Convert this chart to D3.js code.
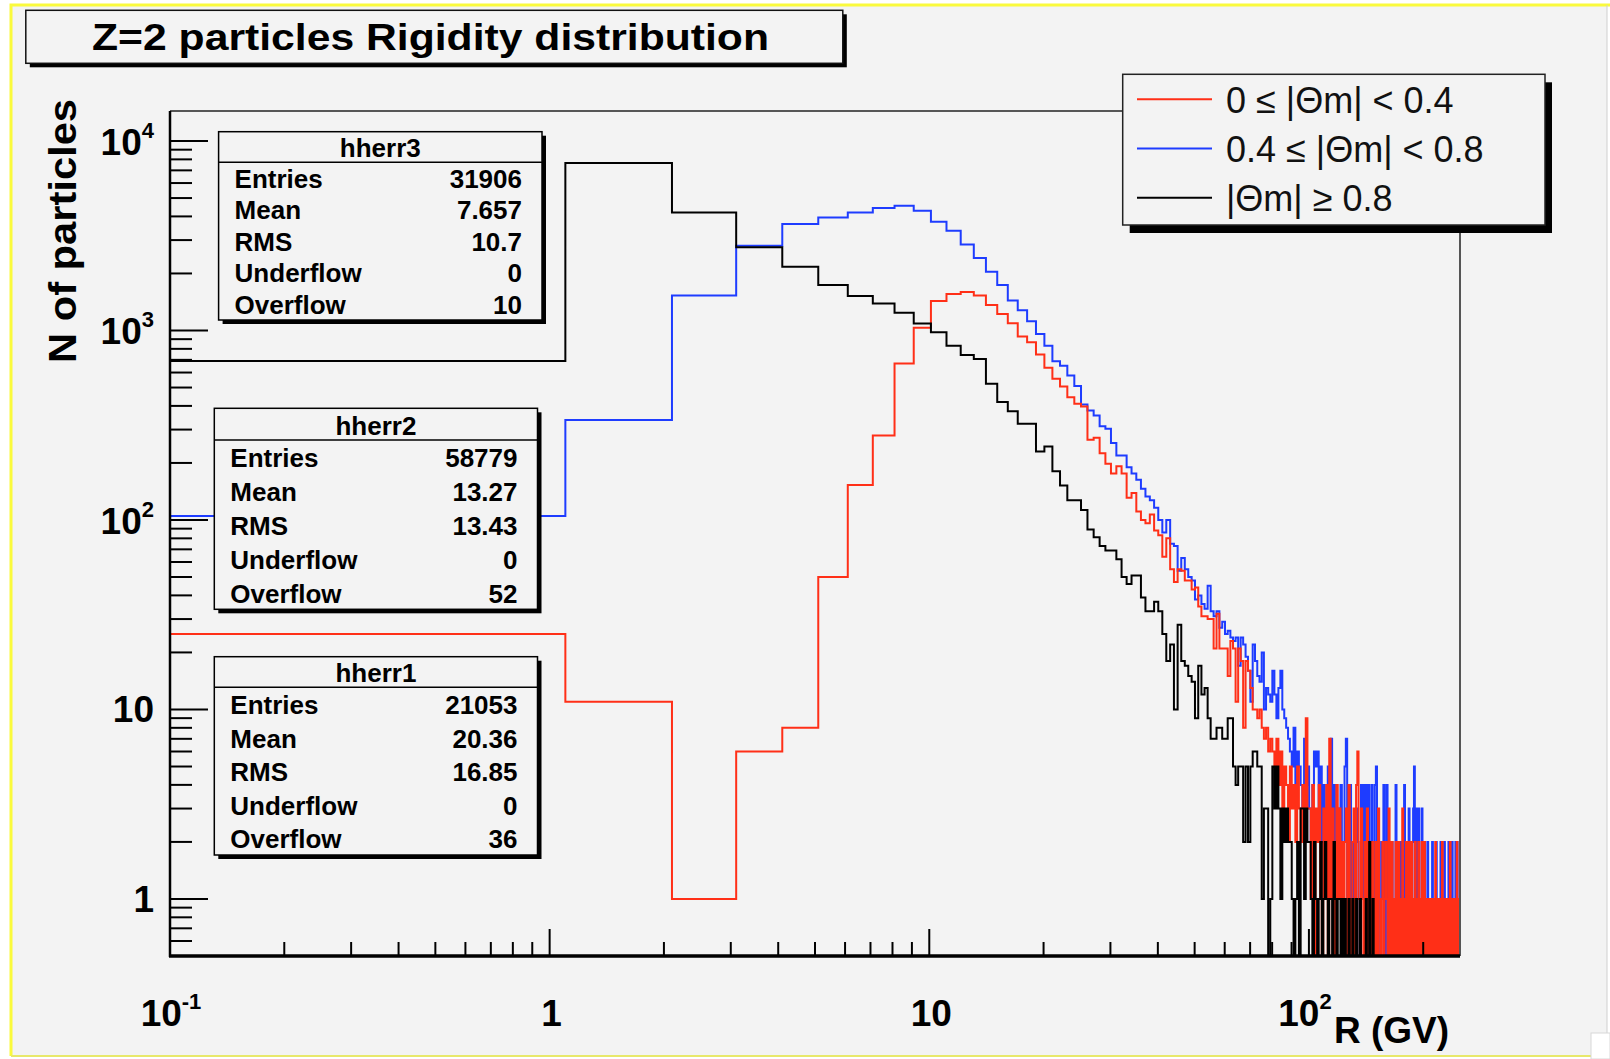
<!DOCTYPE html>
<html>
<head>
<meta charset="utf-8">
<script src="https://d3js.org/d3.v7.min.js"></script>
<style>
  body { margin: 0; background: #ffffff; }
  text { font-family: "Liberation Sans", Arial, Helvetica, sans-serif; }
</style>
</head>
<body>
<script>
const width = 1610;
const height = 1059;

// histogram bins: 1 GV wide, first bin starts at 0.1 GV
const binStart = 0.1;
const binWidth = 1;

// hherr1 : 0 <= |Theta m| < 0.4
const hherr1 = [
  25, 11, 1, 6, 8, 50, 153, 279, 670, 1033,
  1430, 1560, 1595, 1528, 1364, 1222, 1092, 930, 866, 747,
  635, 556, 506, 444, 410, 397, 265, 272, 225, 198,
  176, 192, 176, 131, 139, 111, 100, 96, 107, 88,
  83, 64, 80, 55, 47, 55, 54, 48, 48, 43,
  44, 35, 31, 31, 30, 30, 21, 32, 21, 21,
  21, 15, 23, 21, 11, 21, 18, 8, 18, 16,
  13, 10, 10, 9, 10, 8, 7, 8, 6, 7,
  6, 5, 7, 4, 6, 3, 5, 4, 2, 5,
  3, 4, 2, 5, 3, 2, 4, 2, 9, 3,
  3, 1, 4, 0, 3, 2, 4, 1, 0, 3,
  2, 4, 0, 7, 1, 3, 2, 0, 4, 1,
  3, 1, 2, 0, 2, 3, 0, 4, 1, 0,
  2, 3, 0, 4, 6, 1, 0, 3, 1, 0,
  2, 1, 3, 0, 1, 2, 0, 2, 1, 0,
  2, 0, 3, 1, 0, 1, 2, 0, 1, 2,
  1, 0, 3, 1, 0, 2, 1, 0, 1, 2,
  0, 1, 2, 0, 1, 0, 3, 1, 0, 1,
  2, 0, 1, 2, 0, 1, 2, 0, 1, 0,
  2, 1, 0, 1, 2, 0, 1, 0, 2, 1,
  0, 2, 1, 0, 1, 1, 0, 1, 0, 1,
  1, 0, 1, 0, 1, 2, 0, 1, 0, 1,
  0, 1, 0, 1, 2, 0, 1, 0, 1, 1,
  0, 1, 0, 1, 0, 2, 1, 0, 1, 0,
  1, 0, 1, 1, 0, 2, 0, 1, 0, 1
];

// hherr2 : 0.4 <= |Theta m| < 0.8
const hherr2 = [
  105, 337, 1530, 2800, 3650, 3950, 4200, 4430, 4550, 4285,
  3750, 3360, 2840, 2410, 2040, 1740, 1440, 1280, 1118, 959,
  832, 688, 651, 578, 510, 407, 378, 356, 312, 303,
  255, 219, 219, 190, 176, 163, 146, 133, 127, 116,
  100, 86, 100, 75, 73, 54, 63, 55, 50, 48,
  38, 40, 36, 34, 45, 33, 31, 33, 27, 29,
  25, 26, 24, 23, 24, 17, 24, 22, 19, 16,
  11, 22, 18, 15, 14, 20, 10, 13, 12, 11,
  16, 12, 9, 13, 16, 10, 9, 8, 7, 6,
  5, 8, 4, 6, 5, 4, 3, 7, 4, 5,
  3, 2, 4, 6, 5, 6, 3, 5, 2, 4,
  3, 2, 5, 1, 7, 2, 4, 1, 2, 3,
  2, 4, 1, 2, 5, 7, 1, 2, 4, 1,
  1, 2, 0, 3, 2, 1, 0, 4, 1, 4,
  2, 4, 0, 4, 1, 0, 4, 2, 0, 4,
  5, 0, 2, 1, 0, 2, 1, 4, 0, 1,
  4, 0, 2, 1, 0, 2, 1, 0, 1, 4,
  0, 2, 1, 0, 2, 1, 0, 2, 4, 0,
  2, 0, 1, 3, 0, 1, 0, 2, 3, 5,
  0, 3, 1, 0, 3, 1, 0, 1, 3, 0,
  1, 2, 0, 1, 0, 2, 1, 0, 0, 1,
  0, 2, 0, 0, 1, 0, 2, 0, 0, 1,
  0, 0, 2, 0, 1, 0, 0, 2, 0, 0,
  1, 0, 0, 2, 0, 0, 1, 0, 2, 0,
  0, 1, 0, 2, 0, 0, 1, 0, 0, 2
];

// hherr3 : |Theta m| >= 0.8
const hherr3 = [
  690, 7650, 4200, 2750, 2170, 1740, 1520, 1390, 1240, 1090,
  978, 832, 743, 708, 523, 419, 375, 322, 322, 230,
  244, 181, 152, 127, 127, 113, 89, 81, 73, 69,
  69, 62, 50, 46, 51, 51, 39, 33, 33, 37,
  33, 25, 18, 22, 10, 28, 18, 17, 15, 14,
  9, 17, 12, 13, 9, 7, 7, 8, 8, 7,
  7, 9, 9, 5, 4, 5, 5, 2, 5, 2,
  5, 6, 6, 5, 5, 1, 3, 3, 0, 1,
  5, 3, 5, 3, 1, 3, 2, 3, 2, 2,
  1, 0, 1, 2, 0, 3, 3, 1, 3, 2,
  2, 1, 0, 2, 1, 0, 1, 2, 0, 1,
  2, 1, 0, 1, 1, 0, 2, 1, 0, 1,
  1, 0, 1, 0, 1, 0, 0, 1, 0, 0,
  1, 0, 0, 1, 0, 0, 1, 0, 0, 0,
  0, 1, 0, 0, 2, 0, 0, 1, 0, 0,
  0, 0, 0, 0, 0, 0, 0, 0, 0, 0,
  0, 0, 0, 0, 0, 0, 0, 0, 0, 0,
  0, 0, 0, 0, 0, 0, 0, 0, 0, 0,
  0, 0, 0, 0, 0, 0, 0, 0, 0, 0,
  0, 0, 0, 0, 0, 0, 0, 0, 0, 0,
  0, 0, 0, 0, 0, 0, 0, 0, 0, 0,
  0, 0, 0, 0, 0, 0, 0, 0, 0, 0,
  0, 0, 0, 0, 0, 0, 0, 0, 0, 0,
  0, 0, 0, 0, 0, 0, 0, 0, 0, 0,
  0, 0, 0, 0, 0, 0, 0, 0, 0, 0
];

const seriesNames = ["hherr1", "hherr2", "hherr3"];
const seriesColors = ["#ff2f17", "#1e3cff", "#000000"];
// drawing order: blue under red, black on top
const drawOrder = [1, 0, 2];
const legendLabels = ["0 \u2264 |\u0398m| < 0.4", "0.4 \u2264 |\u0398m| < 0.8", "|\u0398m| \u2265 0.8"];
const legendColors = ["#ff2f17", "#1e3cff", "#000000"];

const statLabels = ["Entries", "Mean", "RMS", "Underflow", "Overflow"];
const statEntries = ["21053", "58779", "31906"];
const statMean = ["20.36", "13.27", "7.657"];
const statRms = ["16.85", "13.43", "10.7"];
const statUnder = ["0", "0", "0"];
const statOver = ["36", "52", "10"];

const xTickValues = [0.1, 1, 10, 100];
const xTickBase = ["10", "1", "10", "10"];
const xTickExp = ["-1", "", "", "2"];
const yTickValues = [1, 10, 100, 1000, 10000];
const yTickBase = ["1", "10", "10", "10", "10"];
const yTickExp = ["", "", "2", "3", "4"];

const titleText = "Z=2 particles Rigidity distribution";
const xTitle = "R (GV)";
const yTitle = "N of particles";

// frame
const frameLeft = 170, frameRight = 1460, frameTop = 111, frameBottom = 956;

const x = d3.scaleLog().domain([0.1, 250]).range([frameLeft, frameRight]);
const y = d3.scaleLog().domain([0.5, 14400]).range([frameBottom, frameTop]);

var svg = d3
  .select("body")
  .append("svg")
  .attr("width", width)
  .attr("height", height);

// canvas
svg.append("rect")
  .attr("x", 11).attr("y", 5)
  .attr("width", 1596).attr("height", 1051)
  .attr("fill", "#f3f3f3");
svg.append("path")
  .attr("d", "M11,1056 L11,5 L1610,5")
  .attr("fill", "none")
  .attr("stroke", "#fafa3c")
  .attr("stroke-width", 3);
svg.append("path")
  .attr("d", "M11,1056 L1591,1056")
  .attr("fill", "none")
  .attr("stroke", "#e8e86a")
  .attr("stroke-width", 2);
svg.append("line")
  .attr("x1", 1607).attr("y1", 5).attr("x2", 1607).attr("y2", 1033)
  .attr("stroke", "#cfcfcf").attr("stroke-width", 1);
svg.append("rect")
  .attr("x", 1591).attr("y", 1033)
  .attr("width", 19).attr("height", 26)
  .attr("fill", "#ffffff")
  .attr("stroke", "#d8d8d8").attr("stroke-width", 1);

svg.append("clipPath")
  .attr("id", "frameClip")
  .append("rect")
  .attr("x", frameLeft).attr("y", frameTop)
  .attr("width", frameRight - frameLeft).attr("height", frameBottom - frameTop);

// histograms
function histPoints(values) {
  var pts = values.map((v, i) => [binStart + i * binWidth, v]);
  pts.push([binStart + values.length * binWidth, values[values.length - 1]]);
  return pts;
}

var line = d3
  .line()
  .x(d => x(d[0]))
  .y(d => (d[1] > 0 ? y(d[1]) : frameBottom + 4))
  .curve(d3.curveStepAfter);

var allSeries = [hherr1, hherr2, hherr3];
var histG = svg.append("g").attr("clip-path", "url(#frameClip)");
drawOrder.forEach(i => {
  histG.append("path")
    .attr("d", line(histPoints(allSeries[i])))
    .attr("fill", "none")
    .attr("stroke", seriesColors[i])
    .attr("stroke-width", 2);
});

// ticks
function isDecade(t) {
  var l = Math.log10(t);
  return Math.abs(l - Math.round(l)) < 1e-9;
}

var tickG = svg.append("g").attr("stroke", "#000").attr("stroke-width", 2);
y.ticks().forEach(t => {
  if (t <= 0.5) return;
  tickG.append("line")
    .attr("x1", frameLeft).attr("x2", frameLeft + (isDecade(t) ? 38 : 22))
    .attr("y1", y(t)).attr("y2", y(t));
});
x.ticks().forEach(t => {
  tickG.append("line")
    .attr("x1", x(t)).attr("x2", x(t))
    .attr("y1", frameBottom).attr("y2", frameBottom - (isDecade(t) ? 27 : 14));
});

// frame lines
svg.append("line")
  .attr("x1", frameLeft).attr("y1", frameTop).attr("x2", frameRight).attr("y2", frameTop)
  .attr("stroke", "#222").attr("stroke-width", 1.5);
svg.append("line")
  .attr("x1", frameRight).attr("y1", frameTop).attr("x2", frameRight).attr("y2", frameBottom)
  .attr("stroke", "#555").attr("stroke-width", 2);
svg.append("line")
  .attr("x1", frameLeft).attr("y1", frameTop).attr("x2", frameLeft).attr("y2", frameBottom + 1)
  .attr("stroke", "#000").attr("stroke-width", 2.5);
svg.append("line")
  .attr("x1", frameLeft - 1).attr("y1", frameBottom).attr("x2", frameRight).attr("y2", frameBottom)
  .attr("stroke", "#000").attr("stroke-width", 3.5);

// tick labels
yTickValues.forEach((v, i) => {
  var hasExp = yTickExp[i] !== "";
  var t = svg.append("text")
    .attr("x", 154)
    .attr("y", y(v) + (hasExp ? 14 : 13))
    .attr("text-anchor", "end")
    .attr("font-weight", "bold")
    .attr("font-size", 37);
  t.append("tspan").text(yTickBase[i]);
  if (hasExp) {
    t.append("tspan").attr("dy", -17).attr("font-size", 22).text(yTickExp[i]);
  }
});

xTickValues.forEach((v, i) => {
  var hasExp = xTickExp[i] !== "";
  var t = svg.append("text")
    .attr("x", x(v) + (v === 100 ? -4 : hasExp ? 1 : 2))
    .attr("y", 1026)
    .attr("text-anchor", "middle")
    .attr("font-weight", "bold")
    .attr("font-size", 37);
  t.append("tspan").text(xTickBase[i]);
  if (hasExp) {
    t.append("tspan").attr("dy", -17).attr("font-size", 22).text(xTickExp[i]);
  }
});

// axis titles
svg.append("text")
  .attr("x", 1449).attr("y", 1043)
  .attr("text-anchor", "end")
  .attr("font-weight", "bold")
  .attr("font-size", 37)
  .text(xTitle);

svg.append("text")
  .attr("transform", "translate(76,231) rotate(-90)")
  .attr("text-anchor", "middle")
  .attr("font-weight", "bold")
  .attr("font-size", 38)
  .attr("textLength", 264)
  .attr("lengthAdjust", "spacingAndGlyphs")
  .text(yTitle);

// stat boxes (hherr1, hherr2, hherr3)
const statBoxes = [
  { x: 214.3, y: 656.7, w: 323.2, h: 198.3, sep: 687.3 },
  { x: 214.3, y: 408.3, w: 323.2, h: 201, sep: 440 },
  { x: 218.6, y: 131.7, w: 323.4, h: 188.3, sep: 162.3 }
];

statBoxes.forEach((b, i) => {
  var g = svg.append("g");
  g.append("rect")
    .attr("x", b.x + 4).attr("y", b.y + 4)
    .attr("width", b.w).attr("height", b.h)
    .attr("fill", "#000");
  g.append("rect")
    .attr("x", b.x).attr("y", b.y)
    .attr("width", b.w).attr("height", b.h)
    .attr("fill", "#f3f3f3")
    .attr("stroke", "#000").attr("stroke-width", 1.5);
  g.append("line")
    .attr("x1", b.x).attr("x2", b.x + b.w)
    .attr("y1", b.sep).attr("y2", b.sep)
    .attr("stroke", "#000").attr("stroke-width", 1.5);
  g.append("text")
    .attr("x", b.x + b.w / 2).attr("y", b.sep - 5)
    .attr("text-anchor", "middle")
    .attr("font-weight", "bold").attr("font-size", 26)
    .text(seriesNames[i]);
  var vals = [statEntries[i], statMean[i], statRms[i], statUnder[i], statOver[i]];
  var rowH = (b.y + b.h - b.sep) / 5;
  statLabels.forEach((lab, k) => {
    var by = b.sep + (k + 0.8) * rowH;
    g.append("text")
      .attr("x", b.x + 16).attr("y", by)
      .attr("font-weight", "bold").attr("font-size", 26)
      .text(lab);
    g.append("text")
      .attr("x", b.x + b.w - 20).attr("y", by)
      .attr("text-anchor", "end")
      .attr("font-weight", "bold").attr("font-size", 26)
      .text(vals[k]);
  });
});

// legend
var legG = svg.append("g");
legG.append("rect")
  .attr("x", 1122.7 + 7).attr("y", 74.3 + 8)
  .attr("width", 422.3).attr("height", 150.7)
  .attr("fill", "#000");
legG.append("rect")
  .attr("x", 1122.7).attr("y", 74.3)
  .attr("width", 422.3).attr("height", 150.7)
  .attr("fill", "#f3f3f3")
  .attr("stroke", "#222").attr("stroke-width", 1.5);
legendLabels.forEach((lab, i) => {
  var ly = 99.3 + i * 49.2;
  legG.append("line")
    .attr("x1", 1137).attr("x2", 1212)
    .attr("y1", ly).attr("y2", ly)
    .attr("stroke", legendColors[i]).attr("stroke-width", 2);
  legG.append("text")
    .attr("x", 1226).attr("y", ly + 13.4)
    .attr("font-size", 36)
    .attr("fill", "#111")
    .text(lab);
});

// title box
var titleG = svg.append("g");
titleG.append("rect")
  .attr("x", 29.8).attr("y", 14.3)
  .attr("width", 817).attr("height", 53)
  .attr("fill", "#000");
titleG.append("rect")
  .attr("x", 25.8).attr("y", 10.3)
  .attr("width", 817).attr("height", 53)
  .attr("fill", "#f3f3f3")
  .attr("stroke", "#111").attr("stroke-width", 1.5);
titleG.append("text")
  .attr("x", 430.5).attr("y", 50)
  .attr("text-anchor", "middle")
  .attr("font-weight", "bold")
  .attr("font-size", 37)
  .attr("textLength", 677)
  .attr("lengthAdjust", "spacingAndGlyphs")
  .text(titleText);
</script>
</body>
</html>
